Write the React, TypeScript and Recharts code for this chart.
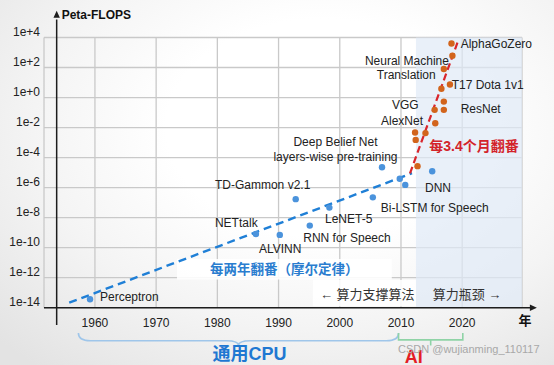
import React from 'react';
import {
  ComposedChart,
  Scatter,
  XAxis,
  YAxis,
  CartesianGrid,
  ReferenceLine,
  ReferenceArea,
  ReferenceDot,
} from 'recharts';

// ---------- data ----------
const yearTicks = [1960, 1970, 1980, 1990, 2000, 2010, 2020];
const logTicks = [-14, -12, -10, -8, -6, -4, -2, 0, 2, 4];
const logTickLabels = ['1e-14', '1e-12', '1e-10', '1e-8', '1e-6', '1e-4', '1e-2', '1e+0', '1e+2', '1e+4'];

// CPU era (blue) systems: year, log10(Peta-FLOPS)
const cpuYears = [1959.2, 1986.3, 1990.2, 1992.8, 1995.1, 1998.3, 2005.4, 2006.9, 2009.8, 2010.7, 2015.1];
const cpuLogFlops = [-13.44, -9.09, -9.15, -6.77, -8.53, -7.33, -6.65, -4.64, -5.41, -5.82, -4.91];

// AI era (orange) systems
const aiYears = [2018.25, 2018.4, 2017.0, 2018.0, 2016.6, 2017.0, 2015.5, 2017.0, 2015.6, 2012.3, 2014.0, 2012.4, 2012.7];
const aiLogFlops = [3.6, 2.78, 1.9, 0.87, 0.59, -0.27, -0.82, -0.82, -1.71, -2.33, -2.37, -2.82, -4.57];

// trend lines
const mooreTrend = [{ x: 1955.8, y: -13.67 }, { x: 2011.8, y: -5.04 }];
const aiTrend = [{ x: 2011.47, y: -5.05 }, { x: 2019.36, y: 3.81 }];

// eras
const aiEraStart = 2012.45;
const domainX: [number, number] = [1951.68, 2029.77];
const domainY: [number, number] = [-14, 4];

type Ann = { text: string; x: number; y: number; anchor: 'start' | 'middle' | 'end'; kind: string };
const annotations: Ann[] = [
  { text: 'AlphaGoZero', x: 2019.75, y: 3.58, anchor: 'start', kind: 'label' },
  { text: 'Neural Machine', x: 2017.84, y: 2.45, anchor: 'end', kind: 'label' },
  { text: 'Translation', x: 2015.67, y: 1.48, anchor: 'end', kind: 'label' },
  { text: 'T17 Dota 1v1', x: 2018.28, y: 0.85, anchor: 'start', kind: 'label' },
  { text: 'VGG', x: 2012.89, y: -0.47, anchor: 'end', kind: 'label' },
  { text: 'ResNet', x: 2019.75, y: -0.73, anchor: 'start', kind: 'label' },
  { text: 'AlexNet', x: 2013.6, y: -1.53, anchor: 'end', kind: 'label' },
  { text: '每3.4个月翻番', x: 2014.63, y: -3.22, anchor: 'start', kind: 'ai' },
  { text: 'Deep Belief Net', x: 1999.3, y: -2.93, anchor: 'middle', kind: 'label' },
  { text: 'layers-wise pre-training', x: 1999.3, y: -3.93, anchor: 'middle', kind: 'label' },
  { text: 'TD-Gammon v2.1', x: 1979.61, y: -5.82, anchor: 'start', kind: 'label' },
  { text: 'NETtalk', x: 1979.61, y: -8.33, anchor: 'start', kind: 'label' },
  { text: 'ALVINN', x: 1986.8, y: -10.09, anchor: 'start', kind: 'label' },
  { text: 'LeNET-5', x: 1997.59, y: -8.11, anchor: 'start', kind: 'label' },
  { text: 'RNN for Speech', x: 1994.04, y: -9.37, anchor: 'start', kind: 'label' },
  { text: 'Bi-LSTM for Speech', x: 2006.69, y: -7.33, anchor: 'start', kind: 'label' },
  { text: 'DNN', x: 2013.92, y: -6.04, anchor: 'start', kind: 'label' },
  { text: 'Perceptron', x: 1960.83, y: -13.29, anchor: 'start', kind: 'label' },
  { text: '每两年翻番（摩尔定律）', x: 1978.8, y: -11.44, anchor: 'start', kind: 'moore' },
  { text: '← 算力支撑算法', x: 1996.77, y: -13.09, anchor: 'start', kind: 'note' },
  { text: '算力瓶颈 →', x: 2015.18, y: -13.09, anchor: 'start', kind: 'note' },
  { text: '年', x: 2030.26, y: -14.87, anchor: 'middle', kind: 'axisCjk' },
  { text: 'Peta-FLOPS', x: 1954.57, y: 5.53, anchor: 'start', kind: 'axis' },
  { text: '通用CPU', x: 1985.25, y: -17.09, anchor: 'middle', kind: 'cpu' },
  { text: 'AI', x: 2012.09, y: -17.27, anchor: 'middle', kind: 'aiBig' },
  { text: 'CSDN @wujianming_110117', x: 2009.51, y: -16.77, anchor: 'start', kind: 'wm' },
];

// ---------- styles ----------
const FONT = '"Liberation Sans", Arial, "Noto Sans CJK SC", sans-serif';
const STYLES: Record<string, { size: number; weight: number; color: string }> = {
  label: { size: 12, weight: 400, color: '#222' },
  ai: { size: 14, weight: 700, color: '#d3232a' },
  moore: { size: 13.5, weight: 700, color: '#2a7dcf' },
  note: { size: 13, weight: 400, color: '#333' },
  axis: { size: 12, weight: 700, color: '#111' },
  axisCjk: { size: 13, weight: 700, color: '#111' },
  cpu: { size: 18, weight: 700, color: '#1f78d2' },
  aiBig: { size: 18, weight: 700, color: '#e31e25' },
  wm: { size: 11, weight: 400, color: '#a8a8a8' },
};

const cpuPoints = cpuYears.map((x, i) => ({ x, y: cpuLogFlops[i] }));
const aiPoints = aiYears.map((x, i) => ({ x, y: aiLogFlops[i] }));

const AXIS_COLOR = '#1d1d1d';

const textShape = (a: Ann) => (p: any) => {
  const s = STYLES[a.kind];
  return (
    <text
      x={p.cx}
      y={p.cy}
      textAnchor={a.anchor}
      dominantBaseline="central"
      fontSize={s.size}
      fontWeight={s.weight}
      fill={s.color}
      fontFamily={FONT}
    >
      {a.text}
    </text>
  );
};

const upArrow = (p: any) => (
  <path d={`M${p.cx},${p.cy} L${p.cx - 3.2},${p.cy + 7} L${p.cx + 3.2},${p.cy + 7} Z`} fill={AXIS_COLOR} />
);
const rightArrow = (p: any) => (
  <path d={`M${p.cx},${p.cy} L${p.cx - 7},${p.cy - 3.2} L${p.cx - 7},${p.cy + 3.2} Z`} fill={AXIS_COLOR} />
);

const blueBrace = (p: any) => {
  const { x, y, width, height } = p;
  const x0 = x, x1 = x + width, xc = x + width / 2;
  const yt = y, yb = y + height, ym = y + height * 0.62;
  const r = 12;
  const d = `M${x0},${yt} Q${x0},${ym} ${x0 + r},${ym} L${xc - r},${ym} Q${xc},${ym} ${xc},${yb} Q${xc},${ym} ${xc + r},${ym} L${x1 - r},${ym} Q${x1},${ym} ${x1},${yt}`;
  return <path d={d} fill="none" stroke="#9fc6ea" strokeWidth={1.6} />;
};
const greenBrace = (p: any) => {
  const { x, y, width, height } = p;
  const x0 = x, x1 = x + width, xc = x + width / 2;
  const yt = y, yb = y + height, ym = y + height * 0.55;
  const d = `M${x0},${yt} L${x0},${ym} L${x1},${ym} L${x1},${yt} M${xc},${ym} L${xc},${yb}`;
  return <path d={d} fill="none" stroke="#8fd3a6" strokeWidth={1.6} />;
};

const XTick = (p: any) => (
  <text x={p.x} y={p.y} dy={19} textAnchor="middle" fontSize={12} fill="#222" fontFamily={FONT}>
    {p.payload.value}
  </text>
);
const YTick = (p: any) => {
  const idx = logTicks.indexOf(p.payload.value);
  return (
    <text x={p.x} y={p.y} dy={-2} textAnchor="end" fontSize={12} fill="#222" fontFamily={FONT}>
      {idx >= 0 ? logTickLabels[idx] : ''}
    </text>
  );
};

export default function App() {
  return (
    <div
      style={{
        position: 'absolute',
        left: 0,
        top: 0,
        width: 554,
        height: 365,
        background: 'radial-gradient(ellipse 80% 85% at 58% 35%, #ffffff 35%, #f4f4f4 65%, #e3e3e3 100%)',
        overflow: 'hidden',
      }}
    >
      <ComposedChart width={554} height={365} margin={{ top: 37.5, right: 32, left: 0, bottom: 27.3 }}>
        <CartesianGrid stroke="#c9c9c9" strokeWidth={1.3} />
        <XAxis
          type="number"
          dataKey="x"
          domain={domainX}
          ticks={yearTicks}
          allowDataOverflow
          axisLine={false}
          tickLine={false}
          tickSize={0}
          tickMargin={0}
          height={30}
          tick={XTick}
          interval={0}
        />
        <YAxis
          type="number"
          dataKey="y"
          domain={domainY}
          ticks={logTicks}
          allowDataOverflow
          axisLine={false}
          tickLine={false}
          tickSize={0}
          tickMargin={4}
          width={44}
          tick={YTick}
          interval={0}
        />

        {/* AI-era shading */}
        <ReferenceArea x1={aiEraStart} x2={domainX[1]} y1={domainY[0]} y2={domainY[1]} fill="#dfeaf6" fillOpacity={0.7} stroke="none" ifOverflow="visible" />
        {/* white label backgrounds */}
        <ReferenceArea x1={1973.4} x2={2008.5} y1={-10.76} y2={-12.12} fill="#ffffff" fillOpacity={0.88} stroke="none" ifOverflow="visible" />
        <ReferenceArea x1={1995.6} x2={aiEraStart} y1={-12.15} y2={-13.9} fill="#ffffff" fillOpacity={0.88} stroke="none" ifOverflow="visible" />

        {/* braces */}
        <ReferenceArea x1={1957.3} x2={2009.6} y1={-15.69} y2={-16.52} ifOverflow="visible" shape={blueBrace} />
        <ReferenceArea x1={2009.6} x2={2020.1} y1={-15.69} y2={-16.52} ifOverflow="visible" shape={greenBrace} />

        {/* axes */}
        <ReferenceLine segment={[{ x: 1953.75, y: -15.15 }, { x: 1953.75, y: 5.2 }]} stroke={AXIS_COLOR} strokeWidth={1.5} ifOverflow="visible" />
        <ReferenceLine segment={[{ x: domainX[0], y: -14 }, { x: 2031.4, y: -14 }]} stroke={AXIS_COLOR} strokeWidth={1.5} ifOverflow="visible" />
        <ReferenceDot x={1953.75} y={5.78} r={0} ifOverflow="visible" shape={upArrow} />
        <ReferenceDot x={2032.2} y={-14} r={0} ifOverflow="visible" shape={rightArrow} />

        {/* trend lines */}
        <ReferenceLine segment={mooreTrend} stroke="#1f7fd6" strokeWidth={2.4} strokeDasharray="8 5" ifOverflow="visible" />
        <ReferenceLine segment={aiTrend} stroke="#d9252b" strokeWidth={2.2} strokeDasharray="7 4" ifOverflow="visible" />

        <Scatter data={cpuPoints} dataKey="y" fill="#4b93dc" isAnimationActive={false}
          shape={(p: any) => <circle cx={p.cx} cy={p.cy} r={3.2} fill="#4b93dc" />} />
        <Scatter data={aiPoints} dataKey="y" fill="#d2641c" isAnimationActive={false}
          shape={(p: any) => <circle cx={p.cx} cy={p.cy} r={3.2} fill="#d2641c" />} />

        {annotations.map((a, i) => (
          <ReferenceDot key={i} x={a.x} y={a.y} r={0} ifOverflow="visible" shape={textShape(a)} />
        ))}
      </ComposedChart>
    </div>
  );
}
